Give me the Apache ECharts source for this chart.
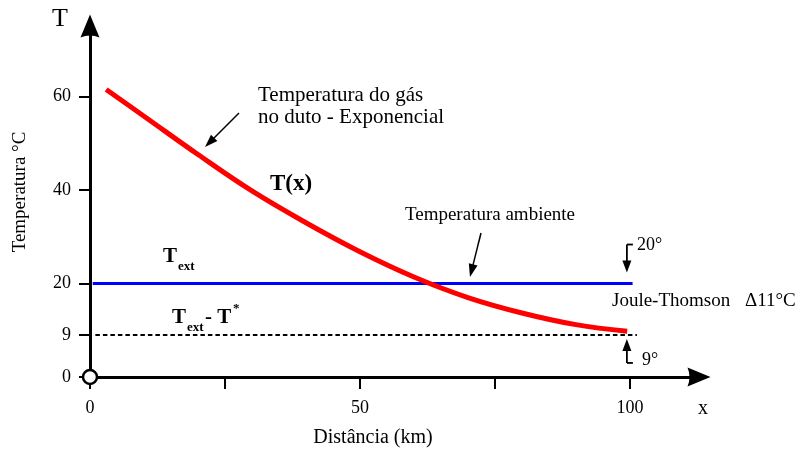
<!DOCTYPE html>
<html><head><meta charset="utf-8">
<script src="https://cdn.jsdelivr.net/npm/echarts@6/dist/echarts.min.js"></script>
<style>html,body{margin:0;padding:0;background:#fff}#c{width:800px;height:450px}</style>
</head><body><div id="c"></div>
<script>
// ---- data ----
const distance = [3, 10, 20, 30, 40, 50, 60, 70, 80, 90, 99.5];
const gasTemp  = [61.5, 55.8, 47.6, 39.8, 33.0, 26.8, 21.4, 17.0, 13.7, 11.2, 9.8];
const ambientX = [0.5, 100.5];
const ambientT = [20, 20];
const lowerX = [1, 101.3];
const lowerT = [9, 9];
const xTickValues = [0, 25, 50, 75, 100];
const xLabelValues = [0, 50, 100];
const yTickValues = [0, 9, 20, 40, 60];
const X_MAX = 112.8, Y_MAX = 75.1;

const FONT = "'Liberation Serif', 'Times New Roman', serif";
const chart = echarts.init(document.getElementById('c'), null, {renderer: 'canvas'});
const arrowPath = 'path://M9.5,0 L19,23 Q9.5,19 0,23 Z';

chart.setOption({
  animation: false,
  grid: {left: 90, right: 101, top: 26, bottom: 73},
  xAxis: {
    type: 'value', min: 0, max: X_MAX,
    axisLine: {onZero: true, lineStyle: {color: '#000', width: 3}, symbol: ['none', arrowPath], symbolSize: [19, 23]},
    axisTick: {customValues: xTickValues, length: 12, lineStyle: {color: '#000', width: 2}},
    axisLabel: {customValues: xLabelValues, margin: 22, color: '#000', fontFamily: FONT, fontSize: 18},
    splitLine: {show: false}
  },
  yAxis: {
    type: 'value', min: 0, max: Y_MAX,
    axisLine: {show: true, onZero: true, lineStyle: {color: '#000', width: 3}, symbol: ['none', arrowPath], symbolSize: [19, 23]},
    axisTick: {show: true, customValues: yTickValues, length: 11, lineStyle: {color: '#000', width: 2}},
    axisLabel: {customValues: yTickValues, margin: 19, color: '#000', fontFamily: FONT, fontSize: 18},
    splitLine: {show: false}
  },
  series: [
    {type: 'line', data: ambientX.map((x, i) => [x, ambientT[i]]), showSymbol: false, z: 3,
     lineStyle: {color: '#0000ff', width: 3}},
    {type: 'line', data: lowerX.map((x, i) => [x, lowerT[i]]), showSymbol: false, z: 3,
     lineStyle: {color: '#000', width: 2, type: [4.5, 3]}},
    {type: 'line', data: distance.map((x, i) => [x, gasTemp[i]]), showSymbol: false, smooth: 0.4, z: 4,
     lineStyle: {color: '#ff0000', width: 5, cap: 'butt'}},
    {type: 'scatter', data: [[0, 0]], symbol: 'circle', symbolSize: 14, z: 10, clip: false,
     itemStyle: {color: '#fff', borderColor: '#000', borderWidth: 2.5, opacity: 1}}
  ]
});

function txt(text, x, y, size, opts) {
  opts = opts || {};
  return {type: 'text', x: x, y: y, rotation: opts.rotation || 0, z: 20,
    style: {text: text, fill: '#000', fontFamily: FONT, fontSize: size, fontWeight: opts.bold ? 'bold' : 'normal',
      align: opts.align || 'left', verticalAlign: 'middle', textAlign: opts.align || 'left', textVerticalAlign: 'middle'}};
}
function arrow(x1, y1, x2, y2, len, w, lw) {
  const a = Math.atan2(y2 - y1, x2 - x1);
  const bx = x2 - len * Math.cos(a), by = y2 - len * Math.sin(a);
  const px = -Math.sin(a) * w / 2, py = Math.cos(a) * w / 2;
  return [
    {type: 'line', z: 20, shape: {x1: x1, y1: y1, x2: bx + Math.cos(a) * 2, y2: by + Math.sin(a) * 2}, style: {stroke: '#000', lineWidth: lw}},
    {type: 'polygon', z: 20, shape: {points: [[x2, y2], [bx + px, by + py], [bx - px, by - py]]}, style: {fill: '#000'}}
  ];
}

const p20 = chart.convertToPixel({gridIndex: 0}, [100, 20]);
const p9 = chart.convertToPixel({gridIndex: 0}, [100, lowerT[0]]);
const bx = p20[0] - 3;

const g = [
  txt('T', 52, 19, 26),
  txt('x', 703, 409, 20, {align: 'center'}),
  txt('Temperatura °C', 20, 192, 19, {align: 'center', rotation: Math.PI / 2}),
  txt('Distância (km)', 373, 438, 20, {align: 'center'}),
  txt('Temperatura do gás', 258, 95, 21),
  txt('no duto - Exponencial', 258, 117, 21),
  txt('T(x)', 270, 184, 23, {bold: true}),
  txt('Temperatura ambiente', 490, 215, 19, {align: 'center'}),
  txt('Joule-Thomson', 612, 301, 19),
  txt('Δ11°C', 745, 301, 19),
  txt('20°', 637, 245, 18),
  txt('9°', 642, 360, 18),
  txt('T', 163, 257, 21, {bold: true}),
  txt('ext', 178, 267, 13, {bold: true}),
  txt('T', 172, 318, 21, {bold: true}),
  txt('ext', 187, 328, 13, {bold: true}),
  txt('- T', 205, 318, 21, {bold: true}),
  txt('*', 233, 309, 13, {bold: true})
];
g.push(...arrow(239, 113, 205, 147, 13, 9, 1.5));
g.push(...arrow(481, 233, 470, 277, 13, 9, 1.5));
// bracket arrows at x = 100
g.push({type: 'line', z: 20, shape: {x1: bx, y1: p20[1] - 39, x2: bx + 6, y2: p20[1] - 39}, style: {stroke: '#000', lineWidth: 1.8}});
g.push(...arrow(bx, p20[1] - 39, bx, p20[1] - 11, 12, 9, 1.8));
g.push({type: 'line', z: 20, shape: {x1: bx, y1: p9[1] + 28, x2: bx + 6, y2: p9[1] + 28}, style: {stroke: '#000', lineWidth: 1.8}});
g.push(...arrow(bx, p9[1] + 28, bx, p9[1] + 4, 12, 9, 1.8));

chart.setOption({graphic: {elements: g}});
</script></body></html>
